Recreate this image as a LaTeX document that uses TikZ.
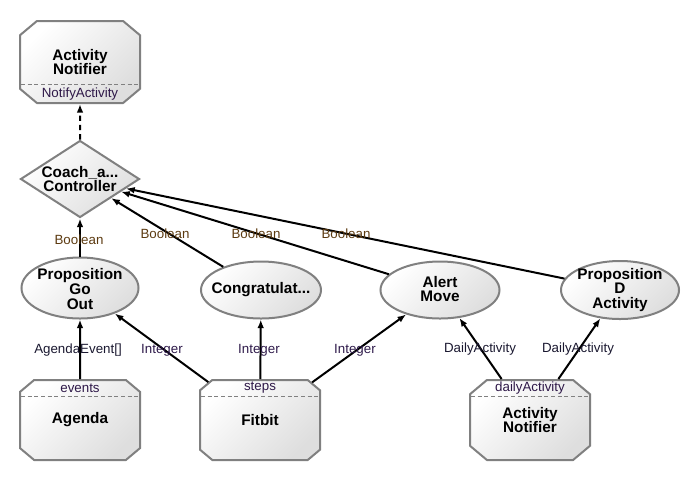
\documentclass[tikz,border=0pt]{standalone}
\usepackage{fontspec}
\setmainfont{Liberation Sans}
\usetikzlibrary{shapes.geometric,shapes.misc,arrows.meta,calc}

\definecolor{framegray}{HTML}{808080}
\definecolor{boolcol}{HTML}{5C3A10}
\definecolor{intcol}{HTML}{2E1A4A}
\definecolor{datacol}{HTML}{1A1830}
\definecolor{portcol}{HTML}{2E1848}

\begin{document}
\begin{tikzpicture}[x=0.75pt,y=-0.75pt,
  shaded/.style={top color=white,bottom color=black!13,shading angle=45},
  frame/.style={draw=framegray,line width=1.5pt},
  title/.style={font=\bfseries\fontsize{11.5}{11}\selectfont,align=center,text=black},
  unitbox/.style={chamfered rectangle,chamfered rectangle xsep=8.5pt,
    chamfered rectangle angle=50,frame,shaded,minimum width=90pt,
    minimum height=60pt,inner sep=0pt,title},
  propnode/.style={ellipse,frame,shaded,inner sep=0pt},
  ctrlnode/.style={diamond,frame,shaded,inner sep=0pt,
    minimum width=89.25pt,minimum height=57.75pt},
  portsep/.style={draw=framegray,line width=0.6pt,dash pattern=on 3pt off 2pt},
  portlabel/.style={font=\fontsize{10}{10}\selectfont,text=portcol,inner sep=0pt},
  flowlabel/.style={font=\fontsize{10}{10}\selectfont,inner sep=0pt},
  link/.style={draw=black,line width=1.5pt,-{Latex[length=6.5pt,width=5pt]}}
]
\useasboundingbox (0,0) rectangle (700,480);

% --- decision node ---
\node[ctrlnode] (ctrl) at (80,179) {};
\node[title] (ctrltext) at (80,179) {Coach\_a...\\Controller};

% --- top notifier with its input port ---
\node[unitbox,minimum height=61.5pt] (notify) at (80,62) {Activity\\Notifier};
\draw[portsep] ($(notify.south)+(-59,-20)$) -- ($(notify.south)+(59,-20)$);
\node[portlabel] (notifyport) at ($(notify.south)+(0,-10)$) {NotifyActivity};

% --- propositions ---
\node[propnode,minimum width=87.75pt,minimum height=45.75pt] (pgo) at (80,288) {};
\node[title] (pgotext) at (80,289) {Proposition\\Go\\Out};
\node[propnode,minimum width=90pt,minimum height=42.75pt] (cong) at (261,290) {};
\node[title] (congtext) at (261,290) {Congratulat...};
\node[propnode,minimum width=89.25pt,minimum height=42.75pt] (alert) at (440,290) {};
\node[title] (alerttext) at (440,289) {Alert\\Move};
\node[propnode,minimum width=88.5pt,minimum height=43.5pt] (pdact) at (620,290) {};
\node[title] (pdacttext) at (620,290) {Proposition\\D\\Activity};

% --- sources with output ports ---
\node[unitbox] (agenda) at (80,420) {Agenda};
\draw[portsep] ($(agenda.north)+(-59,17)$) -- ($(agenda.north)+(59,17)$);
\node[portlabel] (agendaport) at ($(agenda.north)+(0,9)$) {events};

\node[unitbox] (fitbit) at (260,420) {Fitbit};
\draw[portsep] ($(fitbit.north)+(-59,17)$) -- ($(fitbit.north)+(59,17)$);
\node[portlabel] (fitbitport) at ($(fitbit.north)+(0,9)$) {steps};

\node[unitbox] (daily) at (530,420) {Activity\\Notifier};
\draw[portsep] ($(daily.north)+(-59,17)$) -- ($(daily.north)+(59,17)$);
\node[portlabel] (dailyport) at ($(daily.north)+(0,9)$) {dailyActivity};

% --- connectors ---
\draw[link,dash pattern=on 4pt off 3pt] (ctrl) -- (notify);
\draw[link] (pgo) -- (ctrl);
\draw[link] (cong) -- (ctrl);
\draw[link] (alert) -- (ctrl);
\draw[link] (pdact) -- (ctrl);
\draw[link] (agenda) -- (pgo);
\draw[link] (fitbit) -- (pgo);
\draw[link] (fitbit) -- (cong);
\draw[link] (fitbit) -- (alert);
\draw[link] (daily) -- (alert);
\draw[link] (daily) -- (pdact);

% --- connector labels ---
\node[flowlabel,text=boolcol] (b1) at (79,240) {Boolean};
\node[flowlabel,text=boolcol] (b2) at (165,234) {Boolean};
\node[flowlabel,text=boolcol] (b3) at (256,234) {Boolean};
\node[flowlabel,text=boolcol] (b4) at (346,234) {Boolean};
\node[flowlabel,text=datacol] (ev) at (78,350) {AgendaEvent[]};
\node[flowlabel,text=intcol] (i1) at (162,350) {Integer};
\node[flowlabel,text=intcol] (i2) at (259,350) {Integer};
\node[flowlabel,text=intcol] (i3) at (355,350) {Integer};
\node[flowlabel,text=datacol] (d1) at (480,349) {DailyActivity};
\node[flowlabel,text=datacol] (d2) at (578,349) {DailyActivity};
\end{tikzpicture}
\end{document}
